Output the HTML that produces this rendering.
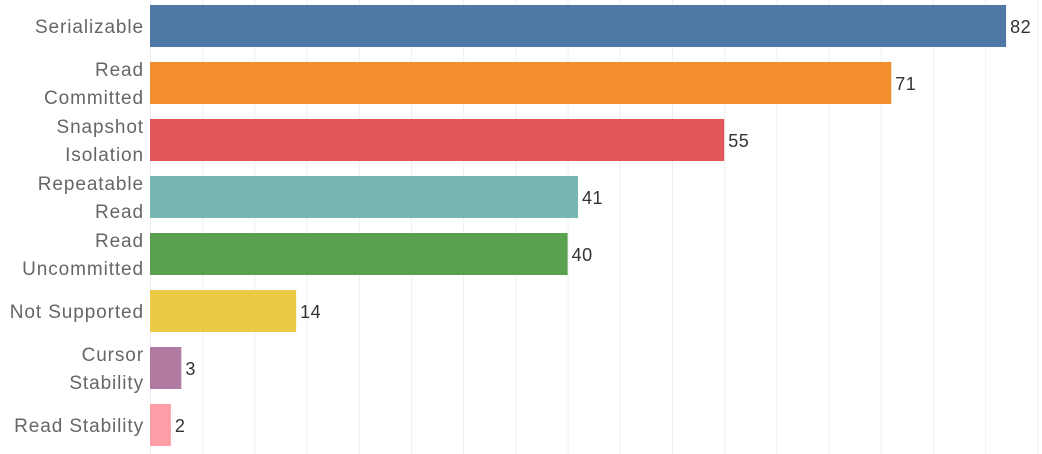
<!DOCTYPE html>
<html><head><meta charset="utf-8"><style>
body{margin:0;background:#fff;}
svg{display:block;font-family:"Liberation Sans",sans-serif;}
</style></head><body>
<svg id="c" width="1042" height="454"></svg>
<script>
const categories=[["Serializable"],["Read","Committed"],["Snapshot","Isolation"],["Repeatable","Read"],["Read","Uncommitted"],["Not Supported"],["Cursor","Stability"],["Read Stability"]];
const values=[82,71,55,41,40,14,3,2];
const colors=["#4e79a7","#f28e2b","#e15759","#76b7b2","#59a14f","#edc948","#b07aa1","#ff9da7"];
const gridTicks=[0,5,10,15,20,25,30,35,40,45,50,55,60,65,70,75,80,85];
const svg=document.getElementById('c');const NS="http://www.w3.org/2000/svg";
const x0=150,k=10.44,rowTop=5,pitch=57,bh=42;
const xs=v=>x0+v*k;
function mk(t,a,p){const e=document.createElementNS(NS,t);for(const n in a)e.setAttribute(n,a[n]);(p||svg).appendChild(e);return e;}
gridTicks.forEach(t=>{const l=mk('line',{x1:xs(t)+0.5,x2:xs(t)+0.5,y1:0,y2:454,stroke:'#efefef','stroke-width':1});

});
values.forEach((v,i)=>{const y=rowTop+i*pitch;
const r=mk('rect',{x:x0,y:y,width:xs(v)-x0,height:bh,fill:colors[i]});


const t=mk('text',{x:xs(v)+4,y:y+bh/2+7,'font-size':18,'letter-spacing':0.5,fill:'#333'});t.textContent=v;


const lines=categories[i];const tx=mk('text',{x:143,'text-anchor':'end','font-size':19,'letter-spacing':0.9,fill:'#666'});


lines.forEach((s,j)=>{const ts=mk('tspan',{x:144,y:y+bh/2+7+(j-(lines.length-1)/2)*28},tx);ts.textContent=s;});
});
</script>
</body></html>
